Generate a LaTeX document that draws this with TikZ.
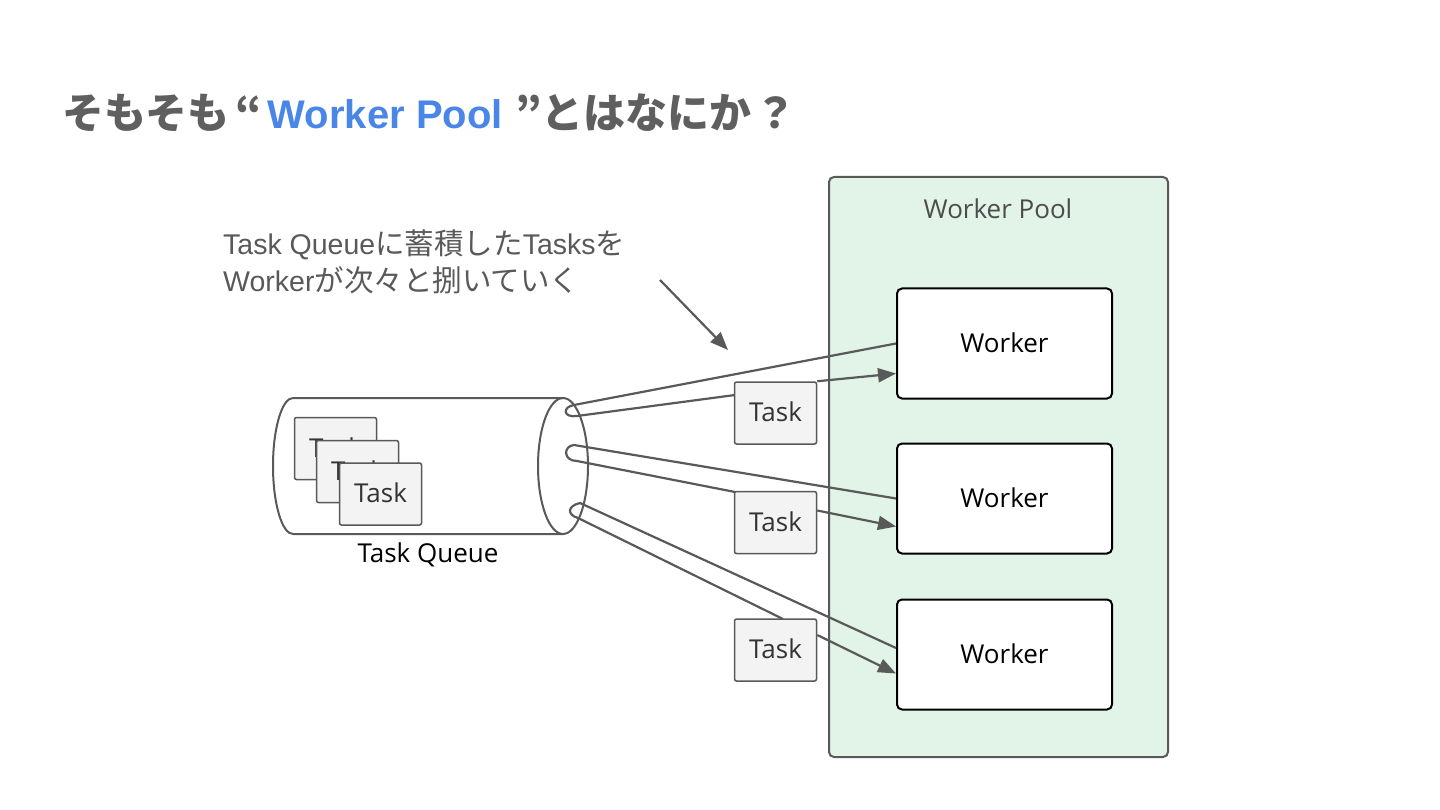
\documentclass[tikz,border=0pt]{standalone}
\usepackage{fontspec}
\setmainfont{Open Sans}
\newfontfamily\jpfont{Noto Sans CJK JP}
\newfontfamily\latinfont{Liberation Sans}
\newcommand{\notetxt}[1]{{\latinfont\fontsize{28.5}{37}\selectfont #1}}
\usetikzlibrary{arrows.meta}
\definecolor{linegray}{HTML}{595959}
\definecolor{titlegray}{HTML}{5F5F5F}
\definecolor{titleblue}{HTML}{4A86E8}
\definecolor{poolgreen}{HTML}{E2F3E7}
\definecolor{taskfill}{HTML}{F3F3F3}
\begin{document}
\begin{tikzpicture}[x=1pt, y=-1pt,
  label26/.style={font=\fontsize{26}{30}\selectfont},
  taskbox/.style={label26, draw=linegray, fill=taskfill, line width=1.5pt,
    rounded corners=2pt, minimum width=82pt, minimum height=62pt,
    inner sep=0pt, text=black!80},
  workerbox/.style={label26, draw=black, fill=white, line width=2pt,
    rounded corners=5pt, minimum width=215pt, minimum height=110pt},
  flow/.style={draw=linegray, line width=2.2pt, line join=round},
  arr/.style={flow, -{Triangle[length=18pt,width=14pt]}}]

\useasboundingbox (0,0) rectangle (1440,810);

% title
\node[anchor=west, inner sep=0pt, text=titlegray,
  font=\jpfont\bfseries\fontsize{42}{46}\selectfont] (title) at (62,113)
  {そもそも\kern6pt“\kern6pt\textcolor{titleblue}{\latinfont\bfseries\fontsize{40}{45}\selectfont Worker Pool}\kern13pt”\kern-1ptとはなにか\kern3pt？};

% note
\node[anchor=west, inner sep=0pt, align=left, text=linegray,
  font=\jpfont\fontsize{29.5}{37}\selectfont] (note) at (223,262)
  {\notetxt{Task Queue}に蓄積した\notetxt{Tasks}を\\\notetxt{Worker}が次々と捌いていく};
\coordinate (notefrom) at (660,280);
\coordinate (noteto) at (728,350);
\draw[arr] (notefrom) -- (noteto);

% pool
\node[draw=linegray, fill=poolgreen, line width=2pt, rounded corners=5pt,
  minimum width=339pt, minimum height=580pt] (pool) at (998.5,467) {};
\node[label26, text=black!70] (poolname) at (998,209) {Worker Pool};

\node[workerbox] (w1) at (1004.5,343.5) {\raisebox{2pt}{Worker}};
\node[workerbox] (w2) at (1004.5,498.5) {\raisebox{2pt}{Worker}};
\node[workerbox] (w3) at (1004.5,654.5) {\raisebox{2pt}{Worker}};

% queue
\draw[line width=2pt, draw=linegray]
  (293,398) -- (563,398)
  (293,534) -- (563,534)
  (293,398) .. controls (282,398) and (273,428.5) .. (273,466)
            .. controls (273,503.5) and (282,534) .. (293,534);
\draw[line width=2pt, draw=linegray] (563,466) ellipse (25 and 68);
\node[label26] (qname) at (428,555) {Task Queue};

\node[taskbox] (q1) at (335.5,448.5) {\raisebox{2pt}{Task}};
\node[taskbox] (q2) at (357.5,471.5) {\raisebox{2pt}{Task}};
\node[taskbox] (q3) at (380.5,494) {\raisebox{2pt}{Task}};

% loops
\draw[flow] (w1.west) -- (574,405) .. controls (562,407) and (563,418) .. (577,416)
  -- ([yshift=-13pt]735,382);
\draw[flow] (w2.west) -- (574,445) .. controls (563,446) and (563,461) .. (577,461)
  -- (735,492);
\draw[flow] ([yshift=6.5pt]w3.west) -- (580,503) .. controls (567,506) and (567,515) .. (578,518)
  -- (783,619);

\node[taskbox] (tA) at (775.5,413) {\raisebox{2pt}{Task}};
\node[taskbox] (tB) at (775.5,522.5) {\raisebox{2pt}{Task}};
\node[taskbox] (tC) at (775.5,650) {\raisebox{2pt}{Task}};

\draw[arr] (tA.north east) -- ([yshift=26pt]w1.south west);
\draw[arr] ([yshift=12pt]tB.east) -- ([yshift=28pt]w2.south west);
\draw[arr] ([yshift=15pt]tC.east) -- ([yshift=37pt]w3.south west);

\end{tikzpicture}
\end{document}
